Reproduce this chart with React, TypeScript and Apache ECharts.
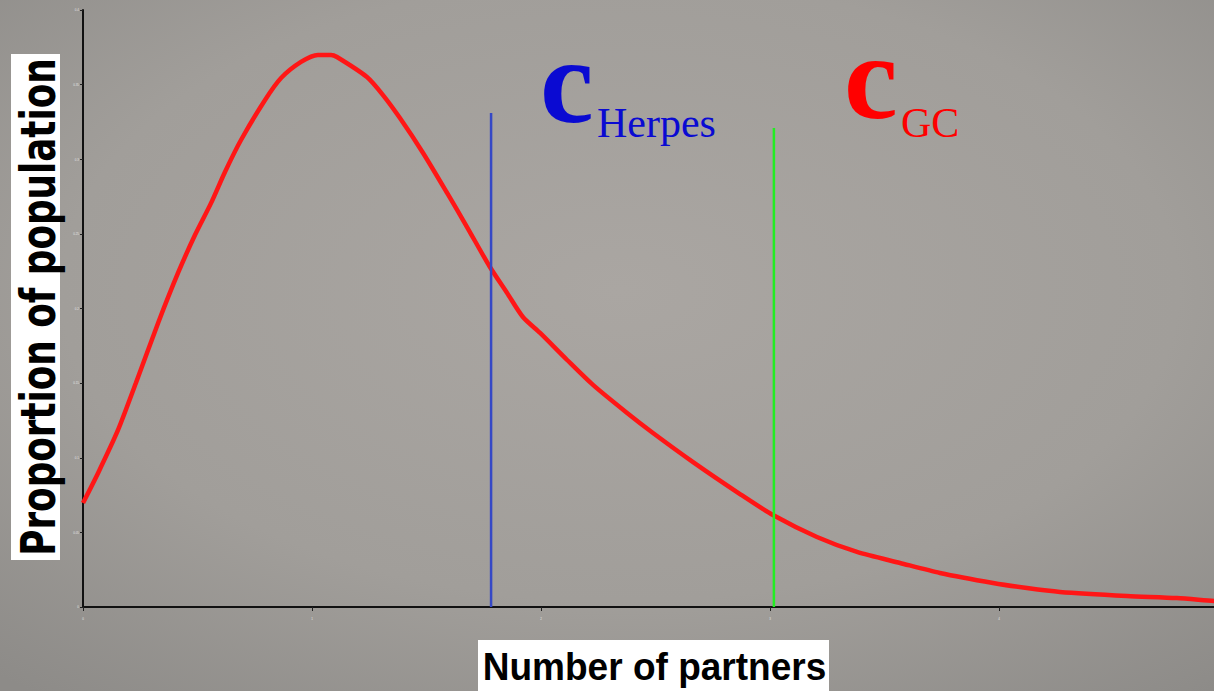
import React, { useEffect, useRef } from "react";
import * as echarts from "echarts";

// Distribution of the number of sexual partners in a population
const partners = [
  0, 0.066, 0.153, 0.231, 0.328, 0.415, 0.489, 0.559, 0.62, 0.69, 0.795, 0.865, 0.952, 1.026, 1.083,
  1.109, 1.24, 1.31, 1.384, 1.485, 1.59, 1.677, 1.777, 1.852, 1.921, 1.996, 2.114, 2.227, 2.376,
  2.489, 2.664, 2.869, 3.013, 3.205, 3.38, 3.568, 3.742, 3.974, 4.122, 4.266, 4.559, 4.777, 4.939, 5.0,
];
const proportion = [
  0.0697, 0.0898, 0.1186, 0.1501, 0.1903, 0.2238, 0.2492, 0.2706, 0.2915, 0.3129, 0.3397, 0.3544,
  0.3652, 0.3699, 0.3699, 0.3685, 0.3551, 0.343, 0.3276, 0.3042, 0.2774, 0.2546, 0.2278, 0.2104,
  0.1943, 0.1836, 0.1655, 0.1488, 0.13, 0.1166, 0.0971, 0.0757, 0.0616, 0.0469, 0.0369, 0.0295,
  0.0228, 0.0161, 0.0127, 0.0101, 0.0074, 0.006, 0.004, 0.0036,
];

// Critical partner counts for each infection
const cHerpes = 1.782;
const cHerpesTop = 0.331;
const cGC = 3.017;
const cGCTop = 0.321;

const xTicks = { min: 0, max: 5, interval: 1 };
const yTicks = { min: 0, max: 0.4, interval: 0.05 };

const xTitle = "Number of partners";
const yTitle = "Proportion of population";

export default function App() {
  const ref = useRef<HTMLDivElement>(null);

  useEffect(() => {
    if (!ref.current) return;
    const chart = echarts.init(ref.current, undefined, { renderer: "svg" });
    const curve = partners.map((x, i) => [x, proportion[i]]);

    chart.setOption({
      animation: false,
      backgroundColor: {
        type: "radial",
        x: 0.5,
        y: 0.42,
        r: 0.75,
        colorStops: [
          { offset: 0, color: "#aaa6a2" },
          { offset: 0.6, color: "#a19e9a" },
          { offset: 1, color: "#8d8b88" },
        ],
      },
      grid: { left: 83, right: 12, top: 10, bottom: 84, containLabel: false },
      xAxis: {
        type: "value",
        ...xTicks,
        axisLine: { show: true, lineStyle: { color: "#111", width: 2 } },
        axisTick: { show: true, length: 4, lineStyle: { color: "#222", width: 1 } },
        axisLabel: { fontSize: 3, color: "#e4e4e4", margin: 10, showMaxLabel: false },
        splitLine: { show: false },
      },
      yAxis: {
        type: "value",
        ...yTicks,
        axisLine: { show: true, lineStyle: { color: "#111", width: 2 } },
        axisTick: { show: true, length: 3, lineStyle: { color: "#222", width: 1 } },
        axisLabel: { fontSize: 3, color: "#e4e4e4", margin: 4 },
        splitLine: { show: false },
      },
      series: [
        {
          type: "line",
          data: curve,
          smooth: 0.25,
          showSymbol: false,
          lineStyle: { color: "#ff1616", width: 4.5 },
          z: 2,
        },
        {
          type: "line",
          data: [
            [cHerpes, 0],
            [cHerpes, cHerpesTop],
          ],
          showSymbol: false,
          lineStyle: { color: "#3548c6", width: 2.5 },
          z: 3,
        },
        {
          type: "line",
          data: [
            [cGC, 0],
            [cGC, cGCTop],
          ],
          showSymbol: false,
          lineStyle: { color: "#22ee22", width: 2.5 },
          z: 3,
        },
      ],
      graphic: [
        { type: "rect", shape: { x: 11, y: 54, width: 49, height: 506 }, style: { fill: "#ffffff" }, z: 10 },
        {
          type: "text",
          x: 38.5,
          y: 307,
          rotation: Math.PI / 2,
          scaleX: 0.745,
          style: {
            text: yTitle,
            fill: "#000",
            font: "bold 48px 'DejaVu Sans'",
            textAlign: "center",
            textVerticalAlign: "middle",
          },
          z: 11,
        },
        { type: "rect", shape: { x: 478, y: 640, width: 351, height: 60 }, style: { fill: "#ffffff" }, z: 10 },
        {
          type: "text",
          x: 654.5,
          y: 666.5,
          scaleX: 0.95,
          style: {
            text: xTitle,
            fill: "#000",
            font: "bold 39px 'Liberation Sans'",
            textAlign: "center",
            textVerticalAlign: "middle",
          },
          z: 11,
        },
        {
          type: "text",
          x: 540,
          y: 80.5,
          style: { text: "c", fill: "#0a0ad2", font: "bold 121px 'Liberation Serif'", textAlign: "left", textVerticalAlign: "middle" },
          z: 11,
        },
        {
          type: "text",
          x: 597,
          y: 123,
          style: { text: "Herpes", fill: "#0a0ad2", font: "42px 'Liberation Serif'", textAlign: "left", textVerticalAlign: "middle" },
          z: 11,
        },
        {
          type: "text",
          x: 844,
          y: 76.5,
          style: { text: "c", fill: "#ff0000", font: "bold 121px 'Liberation Serif'", textAlign: "left", textVerticalAlign: "middle" },
          z: 11,
        },
        {
          type: "text",
          x: 901,
          y: 123,
          style: { text: "GC", fill: "#ff0000", font: "42px 'Liberation Serif'", textAlign: "left", textVerticalAlign: "middle" },
          z: 11,
        },
      ],
    });

    return () => chart.dispose();
  }, []);

  return (
    <div style={{ position: "absolute", left: 0, top: 0, width: 1214, height: 691, overflow: "hidden" }}>
      <div ref={ref} style={{ width: 1240, height: 691 }} />
    </div>
  );
}
